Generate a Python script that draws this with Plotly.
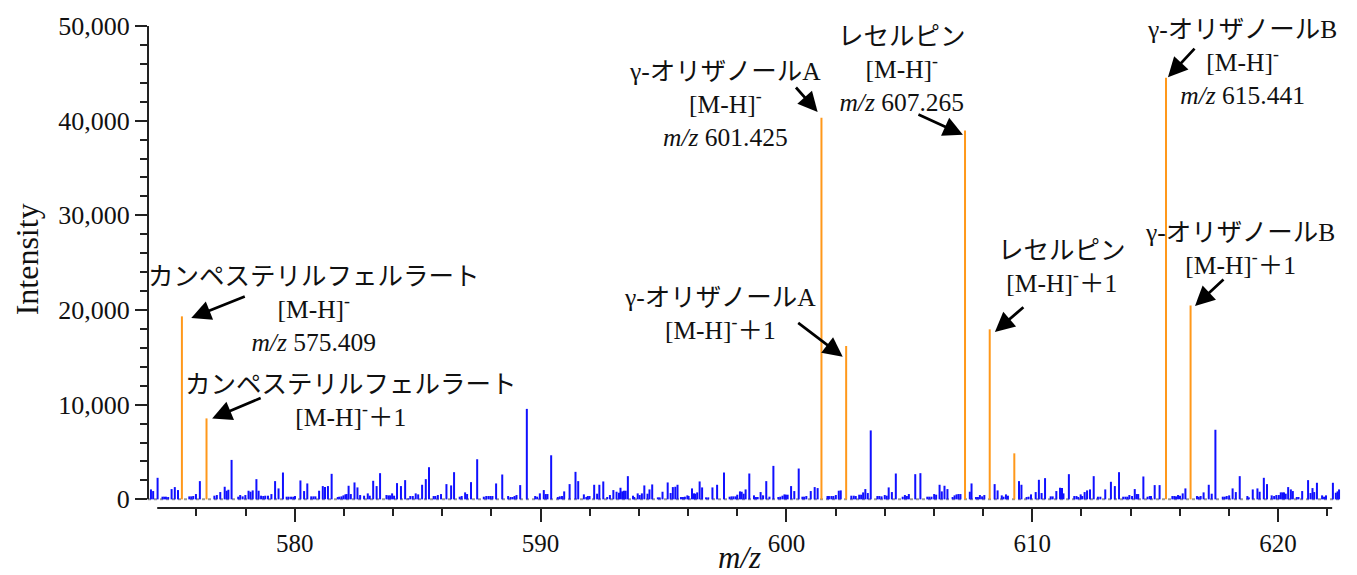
import plotly.graph_objects as go

# ---------------- data ----------------
blue_mz = [
    574.15, 574.24, 574.42, 574.62, 574.69, 574.76, 574.85, 574.99, 575.12, 575.25,
    575.71, 575.79, 575.87, 575.98, 576.14, 576.73, 576.83, 576.97, 577.15, 577.23,
    577.30, 577.43, 577.70, 577.78, 577.88, 577.99, 578.12, 578.20, 578.29, 578.44,
    578.53, 578.63, 578.72, 578.80, 578.91, 579.05, 579.20, 579.34, 579.52, 579.67,
    579.75, 579.85, 579.94, 580.01, 580.23, 580.38, 580.51, 580.67, 580.76, 580.84,
    580.99, 581.14, 581.23, 581.35, 581.50, 581.75, 581.81, 581.90, 581.98, 582.06,
    582.11, 582.19, 582.28, 582.43, 582.55, 582.66, 582.82, 582.97, 583.05, 583.19,
    583.33, 583.47,
    583.73, 583.81, 583.88, 583.96, 584.04, 584.16, 584.32, 584.49, 584.62, 584.70,
    584.80, 584.92, 585.02, 585.18, 585.33, 585.46, 585.65, 585.72, 585.82, 585.95,
    586.17, 586.36, 586.48, 586.71, 586.79, 586.93, 587.01, 587.17, 587.42, 587.69,
    587.79, 587.88, 587.96, 588.04, 588.19, 588.44, 588.68, 588.78, 588.86, 588.94,
    589.02, 589.17, 589.44, 589.78, 589.86, 589.97, 590.13, 590.21, 590.28, 590.43,
    590.70, 590.78, 590.87, 590.96, 591.18, 591.42, 591.53, 591.76, 591.86, 591.92,
    591.99, 592.18, 592.30, 592.39, 592.55, 592.71, 592.82, 592.96, 593.09, 593.19,
    593.25, 593.32, 593.39, 593.46, 593.55,
    593.76, 593.81, 593.95, 594.03, 594.12, 594.22, 594.35, 594.43, 594.54, 594.77,
    594.84, 594.96, 595.17, 595.29, 595.38, 595.48, 595.57, 595.71, 595.79, 595.87,
    595.97, 596.02, 596.16, 596.24, 596.29, 596.37, 596.47, 596.57, 596.73, 596.82,
    596.99, 597.18, 597.46, 597.69, 597.77, 597.85, 597.94, 598.00, 598.11, 598.18,
    598.26, 598.34, 598.49, 598.68, 598.76, 598.83, 598.95, 599.05, 599.18, 599.31,
    599.47, 599.67, 599.75, 599.84, 599.92, 599.98, 600.05, 600.19, 600.32, 600.50,
    600.65, 600.72, 600.81, 600.99, 601.15, 601.27, 601.67, 601.73, 601.83, 601.91,
    602.01, 602.13, 602.21, 602.64, 602.74, 602.82, 602.96, 603.04, 603.12, 603.21,
    603.31, 603.43,
    603.70, 603.78, 603.87, 604.00, 604.08, 604.16, 604.29, 604.45, 604.73, 604.82,
    604.90, 604.98, 605.24, 605.45, 605.73, 605.81, 605.90, 606.01, 606.09, 606.23,
    606.32, 606.43, 606.55, 606.76, 606.84, 606.92, 607.00, 607.08, 607.46, 607.53,
    607.71, 607.79, 607.87, 607.96, 608.05, 608.47, 608.59, 608.76, 608.83, 608.93,
    609.01, 609.46, 609.56, 609.77, 609.85, 609.95, 610.14, 610.27, 610.38, 610.52,
    610.75, 610.83, 610.98, 611.13, 611.21, 611.27, 611.49, 611.71, 611.80, 611.87,
    611.97, 612.03, 612.13, 612.23, 612.35, 612.50, 612.67, 612.77, 612.97, 613.20,
    613.36, 613.53,
    613.70, 613.79, 613.87, 613.95, 614.06, 614.17, 614.25, 614.31, 614.52, 614.69,
    614.78, 614.83, 614.98, 615.18, 615.70, 615.78, 615.85, 615.93, 616.01, 616.12,
    616.23, 616.70, 616.77, 616.85, 616.97, 617.18, 617.30, 617.45, 617.75, 617.83,
    617.91, 618.01, 618.15, 618.28, 618.44, 618.75, 618.81, 618.97, 619.16, 619.25,
    619.42, 619.55, 619.74, 619.84, 619.93, 620.03, 620.11, 620.18, 620.24, 620.31,
    620.41, 620.52, 620.60, 620.76, 620.83, 620.98, 621.22, 621.32, 621.40, 621.47,
    621.58, 621.79, 621.87, 621.95, 622.23, 622.35, 622.42, 622.48,
]
blue_int = [
    1050, 875, 2275, 280, 280, 280, 245, 1085, 1295, 980,
    315, 315, 350, 560, 1925, 385, 455, 770, 1330, 910,
    1015, 4165, 280, 455, 315, 455, 910, 805, 945, 2135,
    910, 385, 350, 385, 385, 560, 1925, 1155, 2835, 280,
    280, 280, 280, 350, 1995, 875, 1680, 315, 315, 315,
    910, 1400, 1295, 1400, 2695, 245, 280, 315, 420, 525,
    560, 1435, 560, 1785, 1260, 455, 385, 630, 385, 1960,
    1400, 2765,
    455, 420, 420, 630, 385, 1715, 1400, 2030, 100, 350,
    350, 630, 525, 1540, 2135, 3395, 350, 350, 455, 560,
    1610, 1470, 2870, 280, 350, 735, 560, 1820, 4235, 280,
    350, 350, 350, 350, 1680, 2625, 350, 245, 245, 350,
    455, 1505, 9555, 350, 280, 630, 980, 560, 560, 4655,
    245, 315, 350, 840, 1610, 2905, 1925, 525, 245, 350,
    350, 1540, 595, 1540, 1890, 245, 455, 980, 805, 700,
    1225, 840, 910, 910, 2450,
    385, 245, 630, 455, 630, 1470, 595, 1050, 1575, 210,
    210, 805, 1785, 665, 1295, 1330, 1540, 245, 245, 280,
    420, 350, 1155, 630, 595, 735, 1890, 1260, 210, 210,
    1260, 1540, 2835, 280, 315, 315, 315, 490, 840, 805,
    595, 1050, 2730, 420, 245, 245, 770, 420, 1925, 280,
    3535, 245, 280, 385, 525, 490, 490, 1400, 875, 3255,
    280, 280, 350, 875, 1295, 1190, 350, 350, 350, 350,
    455, 910, 945, 385, 385, 350, 490, 490, 735, 1085,
    665, 7280,
    350, 350, 315, 455, 385, 1260, 770, 2730, 280, 455,
    350, 560, 2660, 2765, 280, 280, 280, 560, 490, 1540,
    840, 1435, 1085, 245, 420, 525, 560, 560, 805, 1680,
    245, 245, 455, 315, 455, 1610, 945, 420, 280, 525,
    385, 1925, 1540, 245, 280, 525, 770, 2065, 665, 2240,
    315, 315, 875, 1225, 1190, 630, 2660, 350, 350, 245,
    525, 350, 770, 945, 1050, 2450, 280, 280, 1050, 1855,
    1400, 2870,
    280, 280, 280, 455, 350, 1085, 560, 560, 2415, 280,
    350, 350, 1505, 1505, 350, 350, 315, 455, 385, 630,
    1155, 350, 280, 350, 735, 1540, 595, 7350, 280, 280,
    350, 420, 1155, 770, 2450, 350, 210, 1050, 1155, 805,
    2275, 1610, 420, 350, 455, 455, 735, 735, 735, 595,
    1295, 1050, 875, 245, 245, 875, 2030, 665, 1190, 770,
    1750, 420, 280, 420, 1750, 700, 840, 1050,
]

orange_mz = [575.409, 576.41, 601.425, 602.43, 607.265, 608.27, 609.27, 615.441, 616.44]
orange_int = [19330, 8550, 40300, 16200, 38970, 17960, 4860, 44540, 20480]

x_major_ticks = [580, 590, 600, 610, 620]
y_major_ticks = [0, 10000, 20000, 30000, 40000, 50000]
y_tick_text = ["0", "10,000", "20,000", "30,000", "40,000", "50,000"]

SUP = "<sup>-</sup>"
labels = [
    # text, x (m/z), y (intensity) of text centre
    ("カンペステリルフェルラート<br>[M-H]" + SUP + "<br><i>m/z</i> 575.409", 580.80, 20100),
    ("カンペステリルフェルラート<br>[M-H]" + SUP + "＋1", 582.30, 10430),
    ("γ-オリザノールA<br>[M-H]" + SUP + "<br><i>m/z</i> 601.425", 597.49, 41750),
    ("レセルピン<br>[M-H]" + SUP + "<br><i>m/z</i> 607.265", 604.69, 45430),
    ("γ-オリザノールB<br>[M-H]" + SUP + "<br><i>m/z</i> 615.441", 618.53, 46170),
    ("γ-オリザノールA<br>[M-H]" + SUP + "＋1", 597.28, 19580),
    ("レセルピン<br>[M-H]" + SUP + "＋1", 611.21, 24520),
    ("γ-オリザノールB<br>[M-H]" + SUP + "＋1", 618.45, 26410),
]
# arrow tip (m/z, intensity) and tail offset in pixels
arrows = [
    (575.79, 19160, 55, -22),
    (576.64, 8545, 50, -21),
    (601.27, 40915, -23, -26),
    (607.18, 38500, -46, -21),
    (615.52, 44594, 28, -30),
    (602.29, 15061, -46, -35),
    (608.48, 17688, 30, -26),
    (616.62, 20421, 30, -28),
]

FONT = "Liberation Serif, Noto Sans CJK JP, serif"


def sticks(mz, inten):
    xs, ys = [], []
    for m, v in zip(mz, inten):
        xs += [m, m, None]
        ys += [0, v, None]
    return xs, ys


bx, by = sticks(blue_mz, blue_int)
ox, oy = sticks(orange_mz, orange_int)

fig = go.Figure()
fig.add_trace(go.Scatter(x=bx, y=by, mode="lines", line=dict(color="#1010ff", width=2),
                         hoverinfo="skip", showlegend=False))
fig.add_trace(go.Scatter(x=ox, y=oy, mode="lines", line=dict(color="#ff981a", width=2),
                         hoverinfo="skip", showlegend=False))

annotations = []
for t, x, y in labels:
    annotations.append(dict(text=t, x=x, y=y, xref="x", yref="y", showarrow=False,
                            xanchor="center", yanchor="middle",
                            font=dict(family=FONT, size=25.5, color="#111")))
for x, y, ax, ay in arrows:
    annotations.append(dict(text="", x=x, y=y, xref="x", yref="y", showarrow=True,
                            ax=ax, ay=ay, arrowhead=2, arrowsize=1.45, arrowwidth=2.7,
                            arrowcolor="#000"))
annotations.append(dict(text="Intensity", x=-0.1013, y=0.516, xref="paper", yref="paper",
                        showarrow=False, textangle=-90, xanchor="center", yanchor="middle",
                        font=dict(family=FONT, size=32, color="#111")))
annotations.append(dict(text="<i>m/z</i>", x=0.4958, y=-0.103, xref="paper", yref="paper",
                        showarrow=False, xanchor="center", yanchor="middle",
                        font=dict(family=FONT, size=31, color="#111")))

shapes = [
    # zero baseline (dotted)
    dict(type="line", xref="paper", x0=0, x1=1, yref="y", y0=0, y1=0,
         line=dict(color="#9a9a9a", width=2, dash="dot"), layer="below"),
    # y axis line
    dict(type="line", xref="paper", x0=0, x1=0, yref="y", y0=0, y1=50000,
         line=dict(color="#222", width=2)),
    # x axis line
    dict(type="line", xref="x", x0=574.405, x1=622.2, yref="paper", y0=0, y1=0,
         line=dict(color="#222", width=2)),
]

fig.update_layout(
    width=1357, height=575,
    margin=dict(l=148, r=15, t=23.5, b=67),
    paper_bgcolor="white", plot_bgcolor="white",
    font=dict(family=FONT, size=24, color="#111"),
    annotations=annotations, shapes=shapes,
    showlegend=False,
    xaxis=dict(range=[574.03, 622.6], showgrid=False, zeroline=False, showline=False,
               tickmode="array", tickvals=x_major_ticks, ticks="outside", ticklen=13,
               tickwidth=1.6, tickcolor="#222",
               tickfont=dict(family=FONT, size=25, color="#111"),
               minor=dict(dtick=2, tick0=0, ticks="outside", ticklen=7, tickwidth=1.6,
                          tickcolor="#222", showgrid=False)),
    yaxis=dict(range=[-914, 50000], showgrid=False, zeroline=False, showline=False,
               tickmode="array", tickvals=y_major_ticks, ticktext=y_tick_text,
               ticks="outside", ticklen=12, tickwidth=1.6, tickcolor="#222",
               tickfont=dict(family=FONT, size=26, color="#111"),
               minor=dict(dtick=2000, tick0=0, ticks="outside", ticklen=7, tickwidth=1.6,
                          tickcolor="#222", showgrid=False)),
)

fig.write_html("out.html")
